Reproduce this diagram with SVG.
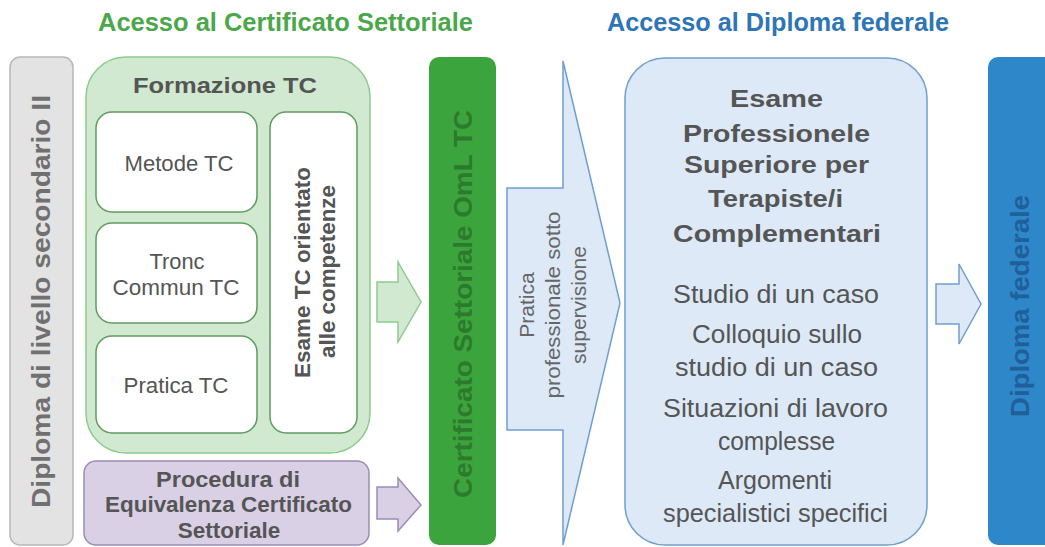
<svg xmlns="http://www.w3.org/2000/svg" width="1045" height="547" viewBox="0 0 1045 547">
<style>
text{font-family:"Liberation Sans",Arial,sans-serif;fill:#555;text-anchor:middle}
.b{font-weight:bold}
.gfill{fill:#d0e9d0;stroke:#8ccc8c;stroke-width:1.5}
.bfill{fill:#dde9f7;stroke:#6e9fcf;stroke-width:1.5}
.inner{fill:#fff;stroke:#5f9c5f;stroke-width:1.5}
</style>
<rect width="1045" height="547" fill="#fff"/>
<text class="b" x="285.5" y="31" font-size="25" textLength="375" lengthAdjust="spacingAndGlyphs" style="fill:#4aa84a">Acesso al Certificato Settoriale</text>
<text class="b" x="778" y="31" font-size="25" textLength="342" lengthAdjust="spacingAndGlyphs" style="fill:#2e75b6">Accesso al Diploma federale</text>

<g id="diploma-sec">
<rect x="10" y="57" width="63" height="488" rx="10" fill="#e3e3e3" stroke="#b8b8b8" stroke-width="1.5"/>
<text class="b" transform="translate(50,301.5) rotate(-90)" font-size="25" textLength="413" lengthAdjust="spacingAndGlyphs" style="fill:#707070">Diploma di livello secondario II</text>
</g>

<g id="formazione">
<rect x="86" y="57" width="284" height="396" rx="40" class="gfill"/>
<text class="b" x="225" y="93" font-size="22.5" textLength="184" lengthAdjust="spacingAndGlyphs">Formazione TC</text>
</g>
<g id="metode"><rect x="96" y="112" width="161" height="100" rx="16" class="inner"/><text x="179" y="171" font-size="21.5" textLength="109" lengthAdjust="spacingAndGlyphs">Metode TC</text></g>
<g id="tronc"><rect x="96" y="223" width="161" height="100" rx="16" class="inner"/><text x="177" y="269" font-size="21.5" textLength="55" lengthAdjust="spacingAndGlyphs">Tronc</text><text x="176" y="295" font-size="21.5" textLength="127" lengthAdjust="spacingAndGlyphs">Commun TC</text></g>
<g id="pratica-tc"><rect x="96" y="336" width="161" height="97" rx="16" class="inner"/><text x="176" y="393" font-size="21.5" textLength="105" lengthAdjust="spacingAndGlyphs">Pratica TC</text></g>
<g id="esame-tc">
<rect x="270" y="112" width="87" height="321" rx="16" class="inner"/>
<text class="b" transform="translate(310,272.5) rotate(-90)" font-size="22.5" textLength="211" lengthAdjust="spacingAndGlyphs">Esame TC orientato</text>
<text class="b" transform="translate(335,271.5) rotate(-90)" font-size="22.5" textLength="173" lengthAdjust="spacingAndGlyphs">alle competenze</text>
</g>

<g id="procedura">
<rect x="84" y="461" width="285" height="84" rx="12" fill="#d9d0e6" stroke="#9c8cb6" stroke-width="1.5"/>
<text class="b" x="228" y="487" font-size="22.5" textLength="144" lengthAdjust="spacingAndGlyphs">Procedura di</text>
<text class="b" x="228.5" y="512" font-size="22.5" textLength="247" lengthAdjust="spacingAndGlyphs">Equivalenza Certificato</text>
<text class="b" x="229" y="538" font-size="22.5">Settoriale</text>
</g>

<g id="certificato">
<rect x="429" y="57" width="67" height="488" rx="10" fill="#3ca43c"/>
<text class="b" transform="translate(472,304) rotate(-90)" font-size="25" textLength="388" lengthAdjust="spacingAndGlyphs" style="fill:#2c7a2c">Certificato Settoriale OmL TC</text>
</g>

<g id="pratica-prof">
<polygon points="507,188 563,188 563,61 620,303 563,545 563,430 507,430" class="bfill"/>
<text transform="translate(534,305) rotate(-90)" font-size="21" style="fill:#666">Pratica</text>
<text transform="translate(560,305) rotate(-90)" font-size="21" textLength="187" lengthAdjust="spacingAndGlyphs" style="fill:#666">professionale sotto</text>
<text transform="translate(586,305) rotate(-90)" font-size="21" style="fill:#666">supervisione</text>
</g>

<g id="esame-prof">
<rect x="625" y="58" width="302" height="487" rx="40" class="bfill"/>
<g class="b" font-size="23.5" lengthAdjust="spacingAndGlyphs">
<text x="776.5" y="107" textLength="93" lengthAdjust="spacingAndGlyphs">Esame</text>
<text x="776.5" y="142" textLength="187" lengthAdjust="spacingAndGlyphs">Professionele</text>
<text x="776.5" y="173" textLength="185" lengthAdjust="spacingAndGlyphs">Superiore per</text>
<text x="775.5" y="207" textLength="135" lengthAdjust="spacingAndGlyphs">Terapiste/i</text>
<text x="777" y="242" textLength="208" lengthAdjust="spacingAndGlyphs">Complementari</text>
</g>
<g font-size="25">
<text x="776" y="303" textLength="206" lengthAdjust="spacingAndGlyphs">Studio di un caso</text>
<text x="777" y="343" textLength="170" lengthAdjust="spacingAndGlyphs">Colloquio sullo</text>
<text x="776.5" y="376" textLength="203" lengthAdjust="spacingAndGlyphs">studio di un caso</text>
<text x="775.5" y="417" textLength="225" lengthAdjust="spacingAndGlyphs">Situazioni di lavoro</text>
<text x="776.5" y="450" textLength="117" lengthAdjust="spacingAndGlyphs">complesse</text>
<text x="775" y="489" textLength="114" lengthAdjust="spacingAndGlyphs">Argomenti</text>
<text x="775.5" y="522" textLength="225" lengthAdjust="spacingAndGlyphs">specialistici specifici</text>
</g>
</g>

<g id="diploma-fed">
<rect x="988" y="57" width="70" height="488" rx="10" fill="#2e87c9"/>
<text class="b" transform="translate(1029,306) rotate(-90)" font-size="25" textLength="222" lengthAdjust="spacingAndGlyphs" style="fill:#1f5f9a">Diploma federale</text>
</g>

<g id="connectors">
<polygon points="377,282 398,282 398,262 421,302 398,342 398,322 377,322" class="gfill"/>
<polygon points="377,487 398,487 398,478 421,505 398,531 398,519 377,519" fill="#d9d0e6" stroke="#9c8cb6" stroke-width="1.5"/>
<polygon points="936,284 959,284 959,264 981,304 959,344 959,324 936,324" class="bfill"/>
</g>
</svg>
